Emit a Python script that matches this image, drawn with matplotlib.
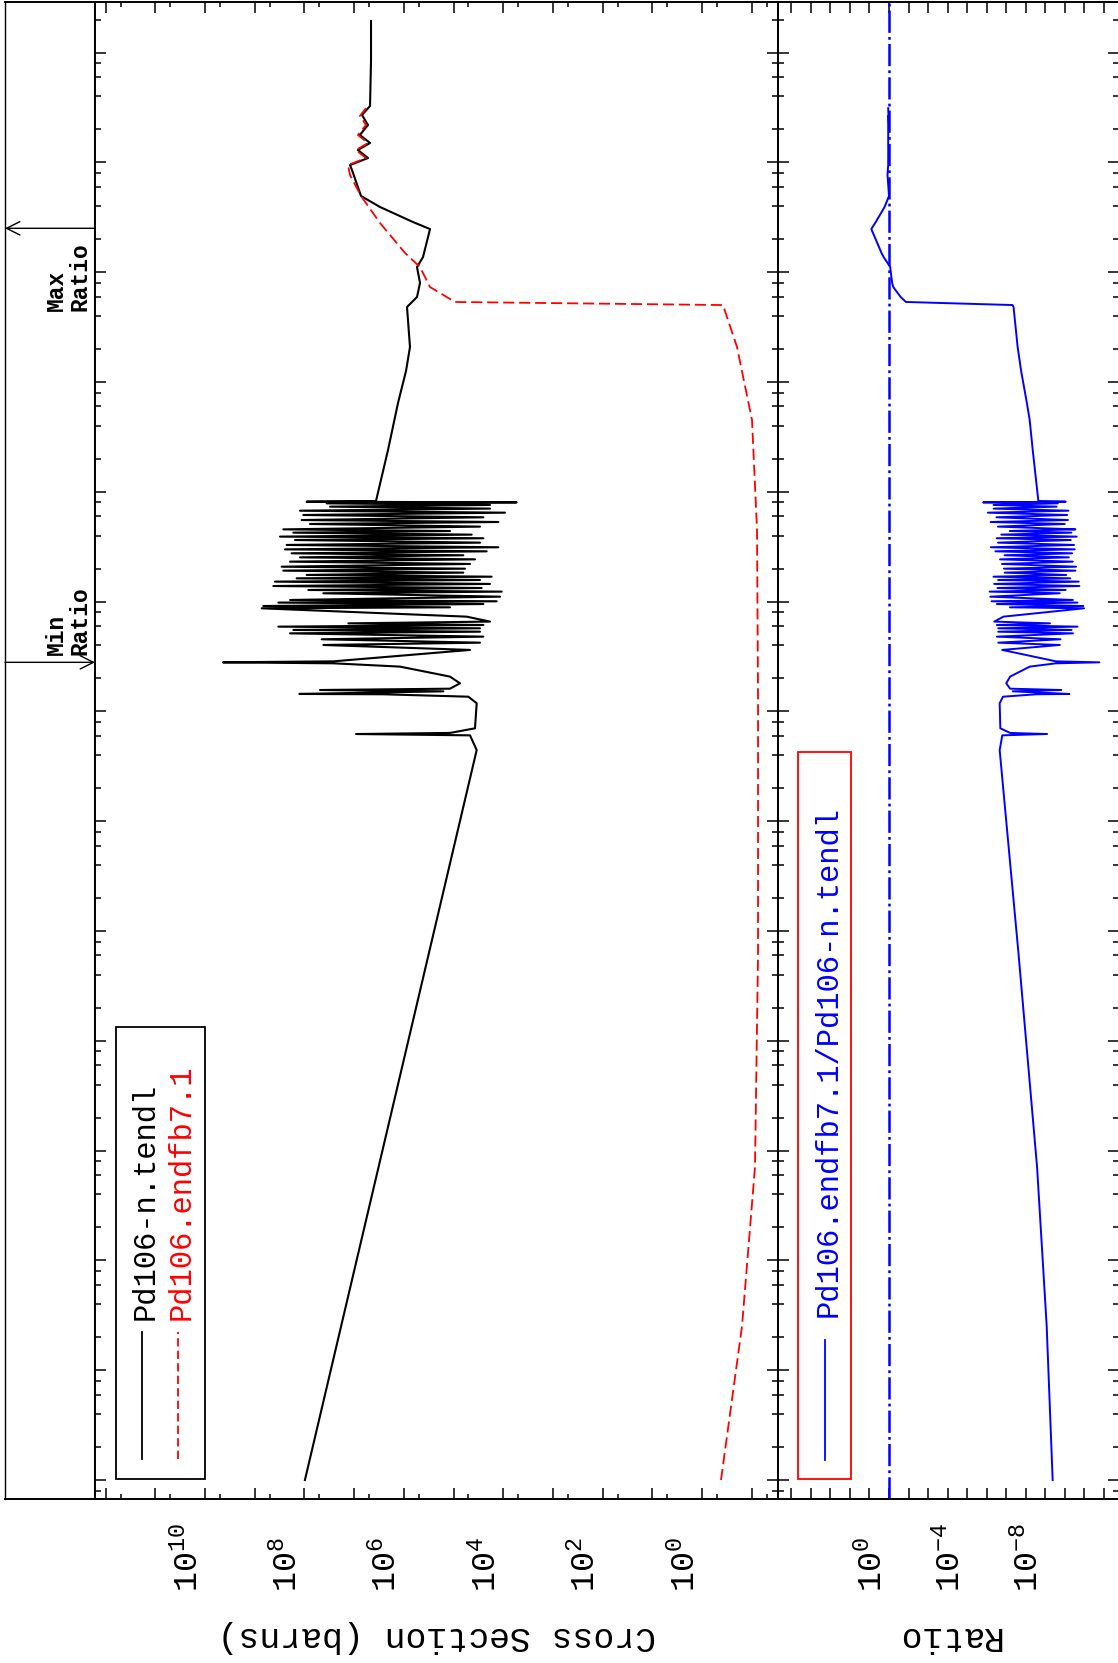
import numpy as np
import matplotlib
matplotlib.use("Agg")
import matplotlib.pyplot as plt
from matplotlib.ticker import LogLocator, FixedLocator, NullFormatter, FixedFormatter, NullLocator
from matplotlib.lines import Line2D
from matplotlib.patches import Rectangle

# ---------------- data (log10 values) ----------------
# Pd106-n.tendl : log10(energy / eV), log10(cross section / barns)
tendl_log_e = [
    -5.000, 1.648, 1.782, 1.794, 1.804, 1.846, 2.074, 2.134, 2.156, 2.159,
    2.183, 2.195, 2.207, 2.256, 2.317, 2.408, 2.438, 2.447, 2.456, 2.560,
    2.605, 2.626, 2.657, 2.681, 2.711, 2.726, 2.742, 2.757, 2.772, 2.787,
    2.802, 2.818, 2.863, 2.939, 2.948, 2.960, 2.978, 2.991, 3.003, 3.015,
    3.045, 3.076, 3.091, 3.106, 3.124, 3.142, 3.161, 3.182, 3.197, 3.212,
    3.227, 3.243, 3.264, 3.282, 3.300, 3.318, 3.343, 3.364, 3.385, 3.403,
    3.422, 3.440, 3.458, 3.476, 3.495, 3.516, 3.537, 3.561, 3.577, 3.592,
    3.610, 3.628, 3.643, 3.658, 3.683, 3.707, 3.725, 3.743, 3.768, 3.789,
    3.810, 3.828, 3.847, 3.865, 3.880, 3.895, 3.904, 3.910, 3.916,
    4.381, 4.809, 5.100, 5.319, 5.683, 5.774, 5.902, 6.047, 6.138, 6.393,
    6.457, 6.594, 6.694, 6.931, 6.976, 7.040, 7.113, 7.177, 7.250, 7.341,
    7.432, 7.514, 7.933, 8.288,
]
tendl_log_xs = [
    7.990, 4.534, 4.668, 6.962, 5.071, 4.568, 4.534, 4.702, 6.412, 8.102,
    5.205, 7.687, 5.071, 4.870, 5.071, 6.077, 7.418, 9.638, 7.418, 4.668,
    7.619, 4.467, 7.653, 4.400, 8.290, 4.467, 8.223, 4.467, 8.525, 4.400,
    7.116, 4.266, 4.736, 8.860, 5.071, 8.827, 4.400, 8.525, 4.132, 8.290,
    4.065, 7.619, 4.031, 7.921, 4.434, 8.626, 4.266, 8.592, 4.467, 8.156,
    4.233, 7.955, 4.803, 8.424, 4.769, 8.458, 4.668, 8.290, 4.568, 8.089,
    4.803, 8.257, 4.333, 8.391, 4.098, 8.357, 4.467, 8.190, 4.400, 8.491,
    4.635, 8.223, 5.071, 8.424, 4.467, 7.888, 4.098, 8.055, 4.400, 8.022,
    3.964, 8.089, 4.266, 7.485, 4.266, 7.552, 3.730, 7.955, 6.560,
    6.318, 6.117, 5.956, 5.876, 5.936, 5.735, 5.674, 5.735, 5.614, 5.473,
    5.815, 6.479, 6.861, 7.043, 7.083, 6.721, 6.924, 6.680, 6.884, 6.721,
    6.842, 6.680, 6.660, 6.660,
]

# Pd106.endfb7.1
endf_log_e = [
    -5.000, -3.598, -2.149, -0.219, 2.104, 3.652, 4.654, 5.319, 5.701, 5.729,
    5.865, 6.047, 6.175, 6.448, 6.694, 6.885, 6.976, 7.040, 7.113, 7.177,
    7.250, 7.341, 7.423, 7.494,
]
endf_log_xs = [
    -0.382, -0.805, -1.066, -1.127, -1.127, -1.107, -1.006, -0.704, -0.422, 4.970,
    5.473, 5.674, 5.976, 6.479, 6.861, 7.083, 7.124, 6.761, 6.963, 6.721,
    6.924, 6.761, 6.884, 6.761,
]

# annotation energies (log10 eV)
max_ratio_log_e = 6.40
min_ratio_log_e = 2.447

cs_tick_exponents = list(range(-1, 13))
cs_labelled = [0, 2, 4, 6, 8, 10]
ratio_tick_exponents = list(range(-11, 6))
ratio_labelled = [0, -4, -8]

legend_top = ["Pd106-n.tendl", "Pd106.endfb7.1"]
legend_ratio = "Pd106.endfb7.1/Pd106-n.tendl"

# ---------------- derived series ----------------
tendl_e = 10.0 ** np.array(tendl_log_e)
tendl_xs = 10.0 ** np.array(tendl_log_xs)
endf_e = 10.0 ** np.array(endf_log_e)
endf_xs = 10.0 ** np.array(endf_log_xs)

# ratio endf / tendl on the union of energies inside the endf range
le_t = np.array(tendl_log_e)
le_e = np.array(endf_log_e)
grid = np.unique(np.concatenate([le_t[le_t <= le_e[-1]], le_e]))
r_log = np.interp(grid, le_e, endf_log_xs) - np.interp(grid, le_t, tendl_log_xs)
ratio_e = 10.0 ** grid
ratio_v = 10.0 ** r_log

# ---------------- figure ----------------
plt.rcParams["font.family"] = ["Liberation Mono", "DejaVu Sans Mono", "DejaVu Sans"]
plt.rcParams["mathtext.default"] = "regular"
plt.rcParams["lines.scale_dashes"] = False

W, H = 1118, 1663
fig = plt.figure(figsize=(W / 100, H / 100), dpi=100)
fig.patch.set_facecolor("white")


def px_axes(x0, x1, y0, y1):
    return fig.add_axes([x0 / W, 1 - y1 / H, (x1 - x0) / W, (y1 - y0) / H])


ax_s = px_axes(5, 95, 2, 1499)
ax_c = px_axes(95, 778, 2, 1499)
ax_r = px_axes(778, 1119, 2, 1499)

ylim = (10 ** -5.173, 10 ** 8.461)
for ax in (ax_s, ax_c, ax_r):
    ax.set_yscale("log")
    ax.set_ylim(*ylim)
    for sp in ax.spines.values():
        sp.set_linewidth(1.4)

# strip with Min / Max ratio markers
ax_s.set_xlim(0, 1)
ax_s.xaxis.set_major_locator(NullLocator())
ax_s.yaxis.set_major_locator(NullLocator())
ax_s.yaxis.set_minor_locator(NullLocator())
ax_s.spines["left"].set_linewidth(1.0)

emax = 10 ** max_ratio_log_e
emin = 10 ** min_ratio_log_e
arrow_kw = dict(arrowstyle="->", lw=1.0, color="black", mutation_scale=24,
                shrinkA=0, shrinkB=0)
ax_s.annotate("", xy=(0.0, emax), xycoords=("axes fraction", "data"),
              xytext=(1.0, emax), textcoords=("axes fraction", "data"),
              arrowprops=arrow_kw)
ax_s.annotate("", xy=(1.0, emin), xycoords=("axes fraction", "data"),
              xytext=(0.0, emin), textcoords=("axes fraction", "data"),
              arrowprops=arrow_kw)
ax_s.annotate("Max\nRatio", xy=(0.70, emax), xycoords=("axes fraction", "data"),
              xytext=(0, -10), textcoords="offset points", rotation=90,
              ha="center", va="top", multialignment="left", fontsize=16.5,
              fontweight="bold", linespacing=1.0)
ax_s.annotate("Min\nRatio", xy=(0.70, emin), xycoords=("axes fraction", "data"),
              xytext=(0, 5), textcoords="offset points", rotation=90,
              ha="center", va="bottom", multialignment="left", fontsize=16.5,
              fontweight="bold", linespacing=1.0)

# cross-section panel
ax_c.set_xscale("log")
ax_c.set_xlim(10 ** 12.214, 10 ** -1.529)
ax_c.plot(tendl_xs, tendl_e, color="black", lw=1.5)
ax_c.plot(endf_xs, endf_e, color="red", lw=1.3, ls=(0, (8, 3.5)))

ax_c.xaxis.set_major_locator(FixedLocator([10.0 ** k for k in cs_tick_exponents]))
ax_c.xaxis.set_major_formatter(FixedFormatter(
    ["$10^{%d}$" % k if k in cs_labelled else "" for k in cs_tick_exponents]))
ax_c.xaxis.set_minor_locator(FixedLocator([5 * 10.0 ** k for k in range(-2, 13)]))
ax_c.xaxis.set_minor_formatter(NullFormatter())

for ax in (ax_c, ax_r):
    ax.yaxis.set_major_locator(LogLocator(base=10, numticks=40))
    ax.yaxis.set_minor_locator(LogLocator(base=10, subs=(2, 4, 6, 8), numticks=40))
    ax.yaxis.set_minor_formatter(NullFormatter())
    ax.tick_params(axis="y", which="both", direction="in", left=True, right=True,
                   labelleft=False, labelright=False)
    ax.tick_params(axis="y", which="major", length=8, width=1.1)
    ax.tick_params(axis="y", which="minor", length=4.5, width=1.1)
    ax.tick_params(axis="x", which="both", direction="in", top=True, bottom=True,
                   width=1.1, labelsize=24, pad=67, labelrotation=90)
    ax.tick_params(axis="x", which="major", length=8)
    ax.tick_params(axis="x", which="minor", length=3.5)

# ratio panel
ax_r.set_xscale("log")
ax_r.set_xlim(10 ** 5.678, 10 ** -11.765)
ax_r.plot(ratio_v, ratio_e, color="blue", lw=1.4)
ax_r.axvline(1.0, color="blue", lw=1.8, ls=(0, (16, 3, 2, 3)))
ax_r.xaxis.set_major_locator(FixedLocator([10.0 ** k for k in ratio_tick_exponents]))
ax_r.xaxis.set_major_formatter(FixedFormatter(
    ["$10^{%d}$" % k if k in ratio_labelled else "" for k in ratio_tick_exponents]))
ax_r.xaxis.set_minor_locator(NullLocator())

for ax in (ax_c, ax_r):
    for lab in ax.get_xticklabels():
        lab.set_verticalalignment("bottom")
        lab.set_horizontalalignment("right")

ax_c.set_xlabel("Cross Section (barns)", rotation=180, fontsize=25, labelpad=20)
ax_r.set_xlabel("Ratio", rotation=180, fontsize=25, labelpad=20)

# legend of the cross-section panel (drawn rotated like the page)
ax_c.add_patch(Rectangle((0.0307, 0.0134), 0.1304, 0.3019, transform=ax_c.transAxes,
                         fill=False, edgecolor="black", lw=1.3))
ax_c.add_line(Line2D([0.0688, 0.0688], [0.0267, 0.1116], transform=ax_c.transAxes,
                     color="black", lw=1.3))
ax_c.add_line(Line2D([0.1215, 0.1215], [0.0267, 0.1116], transform=ax_c.transAxes,
                     color="red", lw=1.3, ls=(0, (6, 3))))
ax_c.text(0.0735, 0.1196, legend_top[0], transform=ax_c.transAxes, rotation=90,
          ha="center", va="bottom", fontsize=22, color="black")
ax_c.text(0.1270, 0.1196, legend_top[1], transform=ax_c.transAxes, rotation=90,
          ha="center", va="bottom", fontsize=22, color="red")

# legend of the ratio panel
ax_r.add_patch(Rectangle((0.0587, 0.0134), 0.1554, 0.4856, transform=ax_r.transAxes,
                         fill=False, edgecolor="red", lw=1.3))
ax_r.add_line(Line2D([0.1378, 0.1378], [0.0261, 0.1062], transform=ax_r.transAxes,
                     color="blue", lw=1.3))
ax_r.text(0.1496, 0.1216, legend_ratio, transform=ax_r.transAxes, rotation=90,
          ha="center", va="bottom", fontsize=22, color="blue")

fig.savefig("out.png", dpi=100, facecolor="white")
